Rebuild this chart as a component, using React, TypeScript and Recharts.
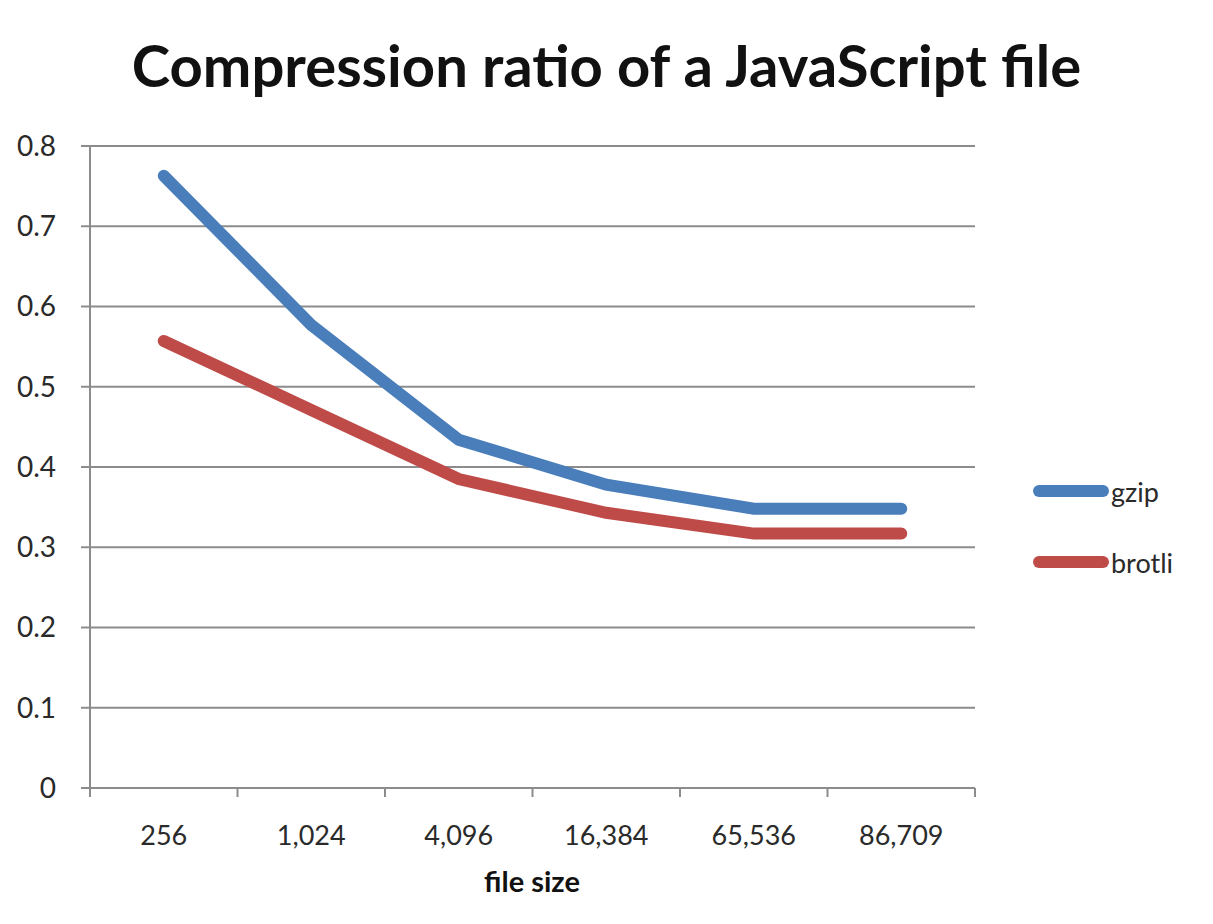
import { LineChart, Line, XAxis, YAxis, CartesianGrid } from "recharts";

const fileSizes = ["256", "1,024", "4,096", "16,384", "65,536", "86,709"];
const gzip = [0.763, 0.577, 0.434, 0.378, 0.348, 0.348];
const brotli = [0.557, 0.471, 0.385, 0.343, 0.317, 0.317];
const yTicks = [0, 0.1, 0.2, 0.3, 0.4, 0.5, 0.6, 0.7, 0.8];

const series = [
  { key: "gzip", name: "gzip", color: "#4a7ebb" },
  { key: "brotli", name: "brotli", color: "#be4b48" },
];

const data = fileSizes.map((size, i) => ({ size, gzip: gzip[i], brotli: brotli[i] }));

const FONT = "Lato, 'Open Sans', sans-serif";
const GRID = "#8c8c8c";
const TEXT = "#2a2a2a";

// category ticks in excel sit between the bands, label stays centered
function XTick(props: any) {
  const { x, y, payload, index } = props;
  const half = payload.offset || 73.75;
  return (
    <g>
      <line x1={x - half} x2={x - half} y1={y} y2={y + 9} stroke={GRID} strokeWidth={2} />
      {index === fileSizes.length - 1 && (
        <line x1={x + half} x2={x + half} y1={y} y2={y + 9} stroke={GRID} strokeWidth={2} />
      )}
      <text x={x} y={y + 57} textAnchor="middle" fontSize={27} fill={TEXT} fontFamily={FONT}>
        {payload.value}
      </text>
    </g>
  );
}

export default function App() {
  return (
    <div style={{ position: "absolute", left: 0, top: 0, width: 1213, height: 924, background: "#fff" }}>
      <div
        style={{
          position: "absolute", left: 0, top: 36, width: 1213, textAlign: "center", lineHeight: 1,
          fontFamily: FONT, fontWeight: 700, fontSize: 58, color: "#111",
        }}
      >
        Compression ratio of a JavaScript file
      </div>

      <LineChart
        width={1213}
        height={924}
        data={data}
        margin={{ top: 146, right: 238, bottom: 0, left: 0 }}
      >
        <CartesianGrid vertical={false} stroke={GRID} strokeWidth={2} />
        <XAxis
          dataKey="size"
          scale="band"
          height={136}
          axisLine={{ stroke: GRID, strokeWidth: 2 }}
          tickLine={false}
          tickSize={0}
          tickMargin={0}
          tick={<XTick />}
          interval={0}
        />
        <YAxis
          width={90}
          domain={[0, 0.8]}
          ticks={yTicks}
          interval={0}
          axisLine={{ stroke: GRID, strokeWidth: 2 }}
          tickLine={{ stroke: GRID, strokeWidth: 2 }}
          tickSize={9}
          tickMargin={25}
          tick={{ fontSize: 28, fill: TEXT, fontFamily: FONT }}
          tickFormatter={(v: number) => (v === 0 ? "0" : v.toFixed(1))}
        />
        {series.map((s) => (
          <Line
            key={s.key}
            type="linear"
            dataKey={s.key}
            name={s.name}
            stroke={s.color}
            strokeWidth={12}
            strokeLinecap="round"
            dot={false}
            activeDot={false}
            isAnimationActive={false}
          />
        ))}
      </LineChart>

      <div
        style={{
          position: "absolute", left: 532, top: 866, transform: "translateX(-50%)", whiteSpace: "nowrap",
          fontFamily: FONT, fontWeight: 700, fontSize: 29, color: "#111", lineHeight: 1,
        }}
      >
        file size
      </div>

      {series.map((s, i) => (
        <div
          key={s.key}
          style={{
            position: "absolute", left: 1033, top: 474 + i * 71, height: 34,
            display: "flex", alignItems: "center", fontFamily: FONT, fontSize: 27, color: TEXT,
          }}
        >
          <span style={{ display: "inline-block", width: 76, height: 12, borderRadius: 6, background: s.color }} />
          <span style={{ marginLeft: 2 }}>{s.name}</span>
        </div>
      ))}
    </div>
  );
}
